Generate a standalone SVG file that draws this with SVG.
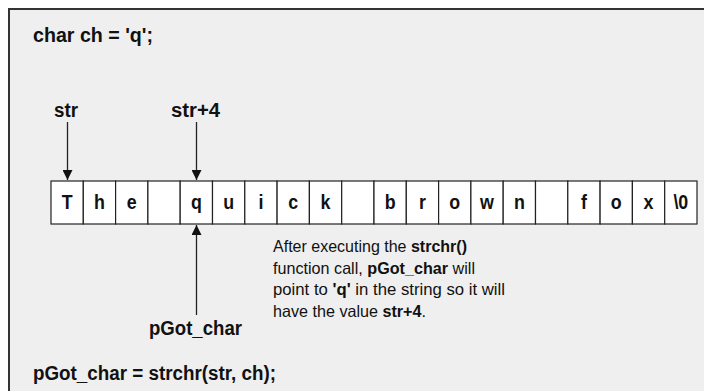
<svg xmlns="http://www.w3.org/2000/svg" width="704" height="391" viewBox="0 0 704 391">
<style>
text{font-family:"Liberation Sans",Arial,sans-serif;fill:#111;}
.b{font-weight:bold;}
.code{font-size:20px;font-weight:bold;}
.cell rect{fill:#fff;stroke:#222;stroke-width:1.2;}
.cell text{font-size:21px;font-weight:bold;text-anchor:middle;}
.note{font-size:16.5px;}
.conn line{stroke:#222;stroke-width:1.3;}
</style>
<defs>
<marker id="ah" viewBox="0 0 10 10" refX="10" refY="5" markerWidth="10" markerHeight="10" markerUnits="userSpaceOnUse" orient="auto">
<path d="M0,0 L10,5 L0,10 z" fill="#111"/>
</marker>
</defs>
<rect x="0" y="0" width="704" height="391" fill="#fff"/>
<rect x="9" y="9" width="700" height="390" fill="#efefef" stroke="#333" stroke-width="2"/>
<g id="code-top"><text class="code" x="33" y="41.5" textLength="120" lengthAdjust="spacingAndGlyphs">char ch = 'q';</text></g>
<g id="label-str"><text class="code" x="54" y="117" textLength="24" lengthAdjust="spacingAndGlyphs">str</text></g>
<g id="label-str4"><text class="code" x="171" y="117" textLength="49" lengthAdjust="spacingAndGlyphs">str+4</text></g>
<g id="string" class="cell">
<rect x="51" y="181" width="32.3" height="43"/>
<rect x="83.3" y="181" width="32.3" height="43"/>
<rect x="115.6" y="181" width="32.3" height="43"/>
<rect x="147.9" y="181" width="32.3" height="43"/>
<rect x="180.2" y="181" width="32.3" height="43"/>
<rect x="212.5" y="181" width="32.3" height="43"/>
<rect x="244.8" y="181" width="32.3" height="43"/>
<rect x="277.1" y="181" width="32.3" height="43"/>
<rect x="309.4" y="181" width="32.3" height="43"/>
<rect x="341.7" y="181" width="32.3" height="43"/>
<rect x="374" y="181" width="32.3" height="43"/>
<rect x="406.3" y="181" width="32.3" height="43"/>
<rect x="438.6" y="181" width="32.3" height="43"/>
<rect x="470.9" y="181" width="32.3" height="43"/>
<rect x="503.2" y="181" width="32.3" height="43"/>
<rect x="535.5" y="181" width="32.3" height="43"/>
<rect x="567.8" y="181" width="32.3" height="43"/>
<rect x="600.1" y="181" width="32.3" height="43"/>
<rect x="632.4" y="181" width="32.3" height="43"/>
<rect x="664.7" y="181" width="32.3" height="43"/>
<g transform="scale(0.85,1)">
<text x="79" y="209">T</text>
<text x="117" y="209">h</text>
<text x="155" y="209">e</text>
<text x="231" y="209">q</text>
<text x="269" y="209">u</text>
<text x="307" y="209">i</text>
<text x="345" y="209">c</text>
<text x="383" y="209">k</text>
<text x="459" y="209">b</text>
<text x="497" y="209">r</text>
<text x="535" y="209">o</text>
<text x="573" y="209">w</text>
<text x="611" y="209">n</text>
<text x="687" y="209">f</text>
<text x="725" y="209">o</text>
<text x="763" y="209">x</text>
<text x="801" y="209">\0</text>
</g>
</g>
<g id="note"><text class="note" x="273" y="252" textLength="194" lengthAdjust="spacingAndGlyphs">After executing the <tspan class="b">strchr()</tspan></text>
<text class="note" x="273" y="273.5" textLength="202" lengthAdjust="spacingAndGlyphs">function call, <tspan class="b">pGot_char</tspan> will</text>
<text class="note" x="273" y="295" textLength="232" lengthAdjust="spacingAndGlyphs">point to <tspan class="b">'q'</tspan> in the string so it will</text>
<text class="note" x="273" y="316.5" textLength="153" lengthAdjust="spacingAndGlyphs">have the value <tspan class="b">str+4</tspan>.</text></g>
<g id="label-pgot"><text class="code" x="149" y="335" textLength="93" lengthAdjust="spacingAndGlyphs">pGot_char</text></g>
<g id="code-bottom"><text class="code" x="33" y="380" textLength="243" lengthAdjust="spacingAndGlyphs">pGot_char = strchr(str, ch);</text></g>
<g id="connectors" class="conn">
<line x1="67.5" y1="122" x2="67.5" y2="180" marker-end="url(#ah)"/>
<line x1="196.5" y1="122" x2="196.5" y2="180" marker-end="url(#ah)"/>
<line x1="196.5" y1="315" x2="196.5" y2="225" marker-end="url(#ah)"/>
</g>
</svg>
